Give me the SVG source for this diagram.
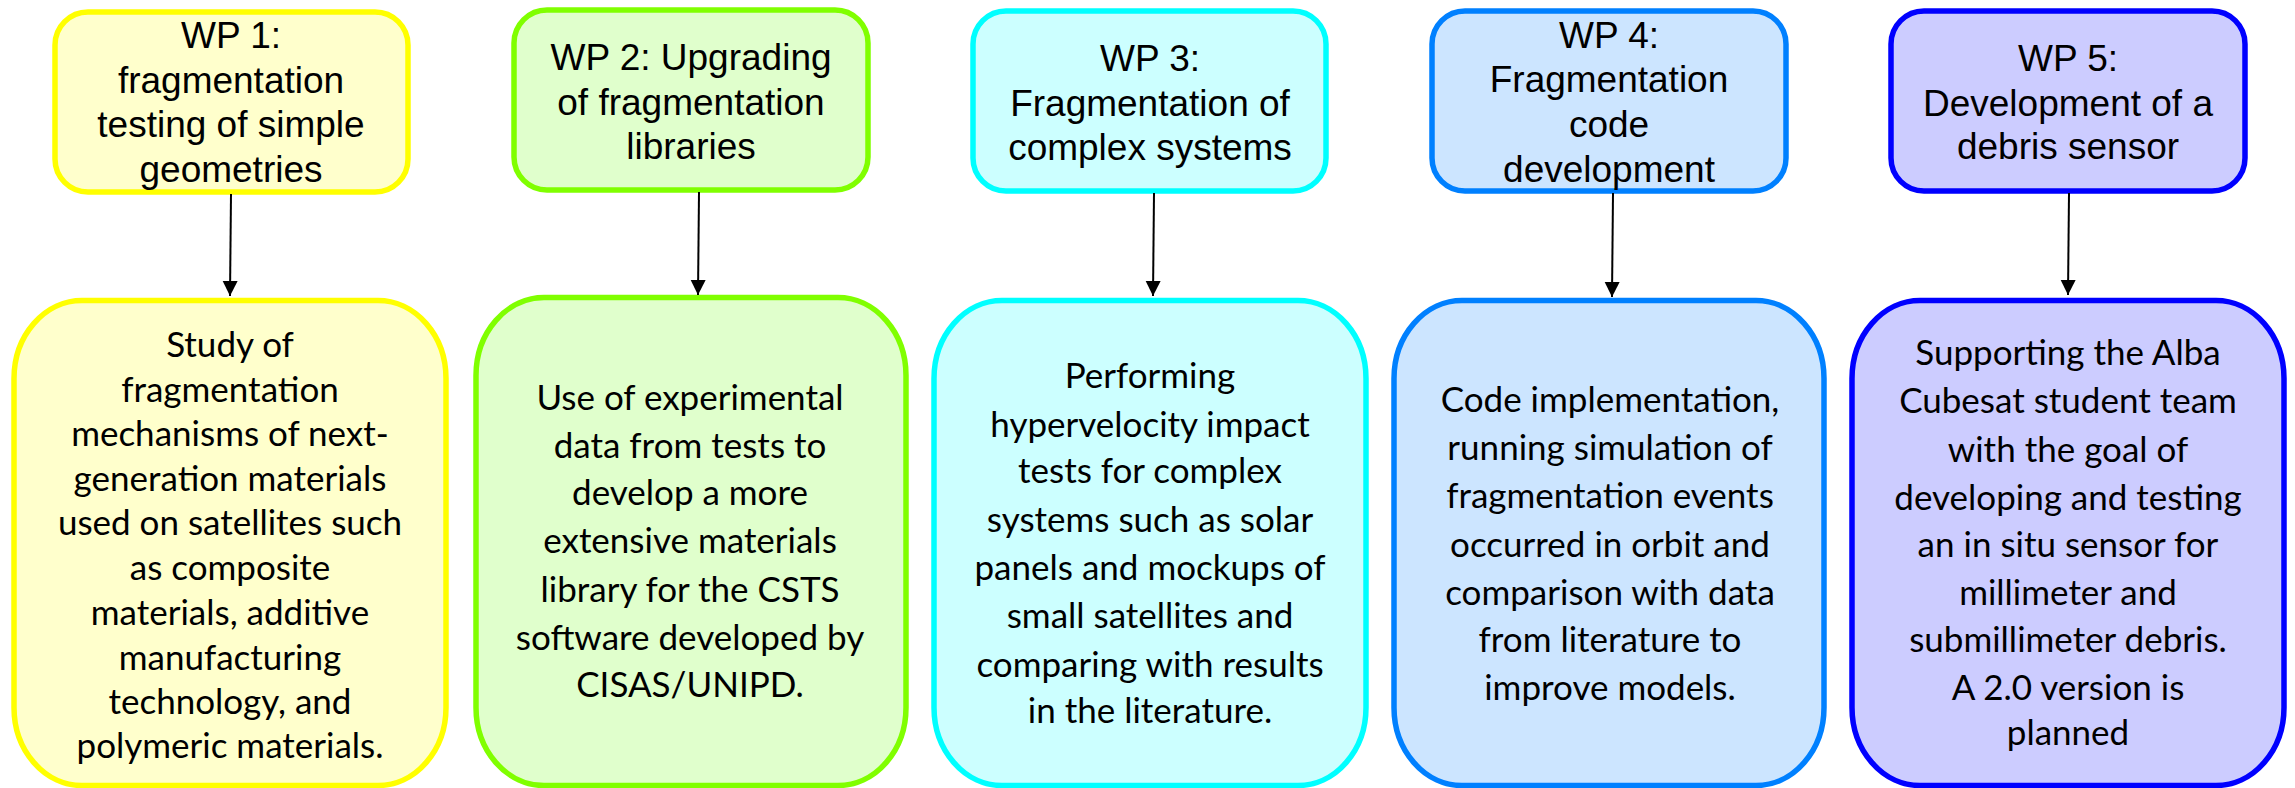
<svg xmlns="http://www.w3.org/2000/svg" width="2295" height="788" viewBox="0 0 2295 788">
<defs>
<marker id="ah" markerUnits="userSpaceOnUse" markerWidth="16" markerHeight="16" refX="15" refY="7.5" orient="auto">
<path d="M0,0 L15,7.5 L0,15 z" fill="#000"/>
</marker>
<style>
.top{stroke-width:5.5}
.bot{stroke-width:5.5}
.tt{font-family:"Liberation Sans",Arial,sans-serif;font-size:37px;fill:#000;text-anchor:middle}
.bt{font-family:Lato,"Liberation Sans",sans-serif;font-size:35px;fill:#000;text-anchor:middle}
.c1{fill:#FFFFCC;stroke:#FFFF00}
.c2{fill:#E0FFCC;stroke:#80FF00}
.c3{fill:#CCFFFF;stroke:#00FFFF}
.c4{fill:#CCE5FF;stroke:#0080FF}
.c5{fill:#CCCCFF;stroke:#0000FF}
.arr{stroke:#000;stroke-width:2;fill:none;marker-end:url(#ah)}
</style>
</defs>
<rect width="2295" height="788" fill="#fff"/>

<g id="wp1">
<rect class="top c1" x="55" y="12" width="353" height="180" rx="33" ry="33"/>
<text class="tt"><tspan x="231" y="48">WP 1:</tspan><tspan x="231" y="93">fragmentation</tspan><tspan x="231" y="137">testing of simple</tspan><tspan x="231" y="182">geometries</tspan></text>
</g>
<g id="wp2">
<rect class="top c2" x="514" y="10" width="354" height="180" rx="33" ry="33"/>
<text class="tt"><tspan x="691" y="70">WP 2: Upgrading</tspan><tspan x="691" y="115">of fragmentation</tspan><tspan x="691" y="159">libraries</tspan></text>
</g>
<g id="wp3">
<rect class="top c3" x="973" y="11" width="353" height="180" rx="33" ry="33"/>
<text class="tt"><tspan x="1150" y="71">WP 3:</tspan><tspan x="1150" y="116">Fragmentation of</tspan><tspan x="1150" y="160">complex systems</tspan></text>
</g>
<g id="wp4">
<rect class="top c4" x="1432" y="11" width="354" height="180" rx="33" ry="33"/>
<text class="tt"><tspan x="1609" y="48">WP 4:</tspan><tspan x="1609" y="92">Fragmentation</tspan><tspan x="1609" y="137">code</tspan><tspan x="1609" y="182">development</tspan></text>
</g>
<g id="wp5">
<rect class="top c5" x="1891" y="11" width="354" height="180" rx="33" ry="33"/>
<text class="tt"><tspan x="2068" y="71">WP 5:</tspan><tspan x="2068" y="116">Development of a</tspan><tspan x="2068" y="159">debris sensor</tspan></text>
</g>

<g id="d1">
<rect class="bot c1" x="14" y="300.5" width="432" height="485" rx="68" ry="78"/>
<text class="bt"><tspan x="230" y="357">Study of</tspan><tspan x="230" y="402">fragmentation</tspan><tspan x="230" y="446">mechanisms of next-</tspan><tspan x="230" y="491">generation materials</tspan><tspan x="230" y="535">used on satellites such</tspan><tspan x="230" y="580">as composite</tspan><tspan x="230" y="625">materials, additive</tspan><tspan x="230" y="670">manufacturing</tspan><tspan x="230" y="714">technology, and</tspan><tspan x="230" y="758">polymeric materials.</tspan></text>
</g>
<g id="d2">
<rect class="bot c2" x="476" y="297.5" width="430" height="488" rx="68" ry="78"/>
<text class="bt"><tspan x="690" y="410">Use of experimental</tspan><tspan x="690" y="458">data from tests to</tspan><tspan x="690" y="505">develop a more</tspan><tspan x="690" y="553">extensive materials</tspan><tspan x="690" y="602">library for the CSTS</tspan><tspan x="690" y="650">software developed by</tspan><tspan x="690" y="697">CISAS/UNIPD.</tspan></text>
</g>
<g id="d3">
<rect class="bot c3" x="934" y="300.5" width="432" height="485" rx="68" ry="78"/>
<text class="bt"><tspan x="1150" y="388">Performing</tspan><tspan x="1150" y="437">hypervelocity impact</tspan><tspan x="1150" y="483">tests for complex</tspan><tspan x="1150" y="532">systems such as solar</tspan><tspan x="1150" y="580">panels and mockups of</tspan><tspan x="1150" y="628">small satellites and</tspan><tspan x="1150" y="677">comparing with results</tspan><tspan x="1150" y="723">in the literature.</tspan></text>
</g>
<g id="d4">
<rect class="bot c4" x="1394" y="300.5" width="430" height="485" rx="68" ry="78"/>
<text class="bt"><tspan x="1610" y="412">Code implementation,</tspan><tspan x="1610" y="460">running simulation of</tspan><tspan x="1610" y="508">fragmentation events</tspan><tspan x="1610" y="557">occurred in orbit and</tspan><tspan x="1610" y="605">comparison with data</tspan><tspan x="1610" y="652">from literature to</tspan><tspan x="1610" y="700">improve models.</tspan></text>
</g>
<g id="d5">
<rect class="bot c5" x="1852" y="300.5" width="432" height="485" rx="68" ry="78"/>
<text class="bt"><tspan x="2068" y="365">Supporting the Alba</tspan><tspan x="2068" y="413">Cubesat student team</tspan><tspan x="2068" y="462">with the goal of</tspan><tspan x="2068" y="510">developing and testing</tspan><tspan x="2068" y="557">an in situ sensor for</tspan><tspan x="2068" y="605">millimeter and</tspan><tspan x="2068" y="652">submillimeter debris.</tspan><tspan x="2068" y="700">A 2.0 version is</tspan><tspan x="2068" y="745">planned</tspan></text>
</g>

<g id="connectors">
<line class="arr" x1="231" y1="194" x2="230" y2="296"/>
<line class="arr" x1="699" y1="192" x2="698" y2="295"/>
<line class="arr" x1="1154" y1="193" x2="1153" y2="296"/>
<line class="arr" x1="1613" y1="193" x2="1612" y2="297"/>
<line class="arr" x1="2069" y1="193" x2="2068" y2="295"/>
</g>
</svg>
